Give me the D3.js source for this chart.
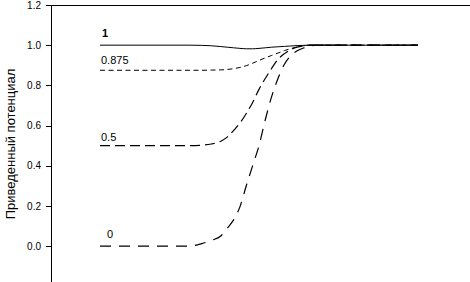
<!DOCTYPE html>
<html>
<head>
<meta charset="utf-8">
<script src="https://cdn.jsdelivr.net/npm/d3@7"></script>
<style>
  body { margin: 0; background: #fff; }
  svg { display: block; font-family: "Liberation Sans", Arial, sans-serif; }
  .axis path, .axis line { stroke: #000; shape-rendering: crispEdges; }
  .axis text { font-size: 10px; fill: #000; }
</style>
</head>
<body>
<div class="chart"></div>
<script>
// shared x grid (arbitrary distance units)
const xs = [0, 28, 32, 35, 38, 40, 42, 44, 46, 48, 50, 52, 54, 56, 58, 60, 62, 64, 66, 68, 100];

// series values, one per x
const series1 = [1, 1, 0.999, 0.997, 0.993, 0.990, 0.987, 0.984, 0.982, 0.982, 0.984, 0.987, 0.990, 0.992, 0.994, 0.996, 0.998, 0.999, 1, 1, 1];
const series0875 = [0.875, 0.875, 0.875, 0.876, 0.877, 0.879, 0.883, 0.889, 0.898, 0.910, 0.924, 0.937, 0.949, 0.961, 0.973, 0.983, 0.991, 0.997, 1, 1, 1];
const series05 = [0.5, 0.5, 0.502, 0.508, 0.522, 0.542, 0.575, 0.612, 0.660, 0.715, 0.780, 0.835, 0.885, 0.930, 0.958, 0.978, 0.990, 0.997, 1, 1, 1];
const series0 = [0, 0, 0.012, 0.028, 0.050, 0.088, 0.130, 0.195, 0.300, 0.400, 0.500, 0.630, 0.745, 0.835, 0.905, 0.948, 0.972, 0.986, 0.995, 1, 1];

const seriesNames = ["1", "0.875", "0.5", "0"];
const yTicks = [0, 0.2, 0.4, 0.6, 0.8, 1.0, 1.2];
const yTitle = "Приведенный потенциал";

const W = 470, H = 282;
const plotLeft = 51, plotRight = 470;

const svg = d3.select(".chart")
  .append("svg")
  .attr("width", W)
  .attr("height", H);

// scales
const x = d3.scaleLinear().domain([0, 100]).range([100, 418]);
const y = d3.scaleLinear().domain([-0.2, 1.2]).range([286.2, 5]);

// y axis
const yAxis = d3.axisLeft(y)
  .tickValues(yTicks)
  .tickSize(5)
  .tickPadding(5)
  .tickFormat(d3.format(".1f"));

svg.append("g")
  .attr("class", "axis")
  .attr("transform", "translate(" + plotLeft + ",0)")
  .call(yAxis)
  .call(g => g.select(".domain").attr("d", "M0.5," + y(1.2) + "V" + H * 1.2));

// top border of the plot area
svg.append("line")
  .attr("x1", plotLeft)
  .attr("x2", plotRight)
  .attr("y1", Math.round(y(1.2)) + 0.5)
  .attr("y2", Math.round(y(1.2)) + 0.5)
  .attr("stroke", "#000")
  .attr("shape-rendering", "crispEdges");

// axis title
svg.append("text")
  .attr("transform", "translate(15," + 144 + ") rotate(-90)")
  .attr("text-anchor", "middle")
  .style("font-size", "13px")
  .text(yTitle);

// curves
const lines = [
  { name: seriesNames[0], values: series1, dash: null, width: 1, lx: 2, ly: -8, bold: true },
  { name: seriesNames[1], values: series0875, dash: "5,3.5", width: 1, lx: 1, ly: -6, bold: false },
  { name: seriesNames[2], values: series05, dash: "10,5", width: 1.2, lx: 1, ly: -5, bold: false },
  { name: seriesNames[3], values: series0, dash: "11,8", width: 1.2, lx: 7, ly: -8, bold: false }
];

const line = d3.line()
  .x(d => x(d[0]))
  .y(d => y(d[1]))
  .curve(d3.curveMonotoneX);

lines.forEach(s => {
  const pts = xs.map((v, i) => [v, s.values[i]]);
  svg.append("path")
    .datum(pts)
    .attr("fill", "none")
    .attr("stroke", "#000")
    .attr("stroke-width", s.width)
    .attr("stroke-dasharray", s.dash)
    .attr("d", line);

  svg.append("text")
    .attr("x", x(0) + s.lx)
    .attr("y", y(s.values[0]) + s.ly)
    .style("font-size", "11px")
    .style("font-weight", s.bold ? "bold" : "normal")
    .text(s.name);
});
</script>
</body>
</html>
